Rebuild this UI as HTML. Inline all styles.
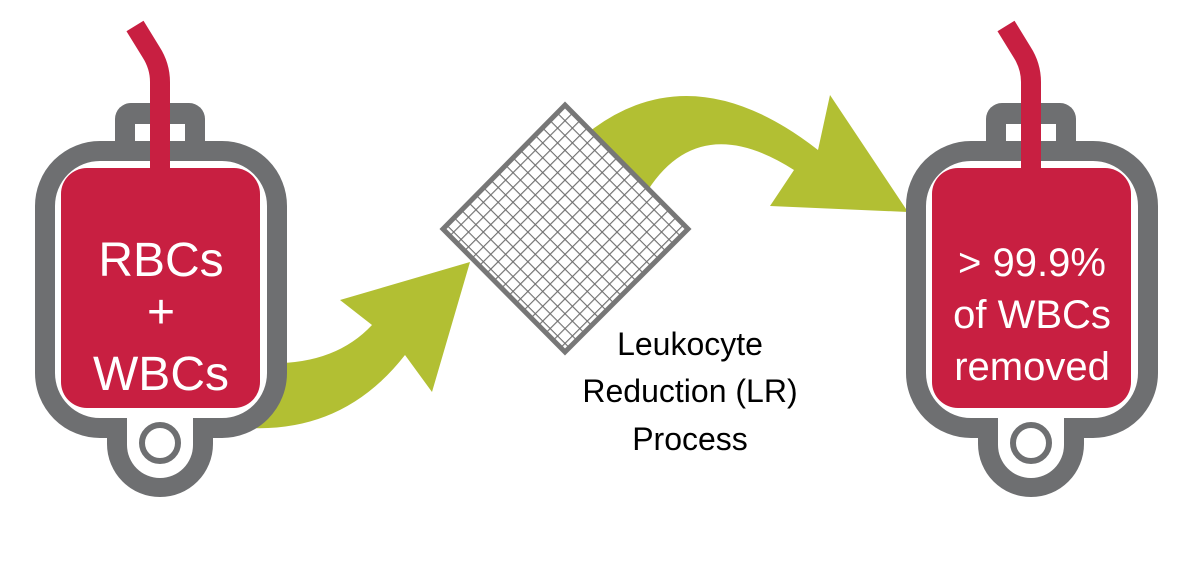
<!DOCTYPE html>
<html><head><meta charset="utf-8"><style>
html,body{margin:0;padding:0;background:#fff;}
svg{display:block;}
</style></head><body>
<svg width="1200" height="569" viewBox="0 0 1200 569" xmlns="http://www.w3.org/2000/svg">
<defs>
<pattern id="grid" width="10.5" height="10.5" patternUnits="userSpaceOnUse" patternTransform="translate(565,105) rotate(45)">
<rect width="10.5" height="10.5" fill="#fff"/>
<path d="M0,0 H10.5 M0,0 V10.5" stroke="#707070" stroke-width="2.3" fill="none"/>
</pattern>
<g id="bag">
<path d="M107,400 L107,444 A53,53 0 0 0 213,444 L213,400 Z" fill="#6e6f71"/>
<rect x="115" y="103" width="90" height="60" rx="16" fill="#6e6f71"/>
<rect x="45" y="151" width="232" height="277" rx="55" fill="#fff" stroke="#6e6f71" stroke-width="20"/>
<rect x="135" y="124" width="50" height="17" fill="#fff"/>
<path d="M127,405 L127,445 A33,33 0 0 0 193,445 L193,405 Z" fill="#fff"/>
<circle cx="160" cy="443" r="18" fill="#fff" stroke="#6e6f71" stroke-width="6"/>
<rect x="61" y="168" width="199" height="240" rx="26" fill="#c81f41"/>
<path d="M160,170 L160,82 Q160,66 151,52 L135,26" fill="none" stroke="#c81f41" stroke-width="20"/>
</g>
</defs>

<path d="M250,362 Q330,370 372,325 L340,300 L470,262 L432,392 L405,355 Q345,432 250,428 Z" fill="#b2bf33"/>
<path d="M585,135 Q690,50 818,150 L830,95 L908,212 L770,206 L794,170 Q700,110 648,190 Z" fill="#b2bf33"/>

<use href="#bag"/>
<use href="#bag" transform="translate(871,0)"/>

<polygon points="565,105 688,229 565,352 443,229" fill="url(#grid)" stroke="#777" stroke-width="5"/>

<g font-family="Liberation Sans, sans-serif" fill="#fff" text-anchor="middle">
<text x="161" y="276" font-size="48">RBCs</text>
<text x="161" y="328" font-size="48">+</text>
<text x="161" y="390" font-size="48">WBCs</text>
<text x="1032" y="276" font-size="40">&gt; 99.9%</text>
<text x="1032" y="328" font-size="40">of WBCs</text>
<text x="1032" y="380" font-size="40">removed</text>
</g>
<g font-family="Liberation Sans, sans-serif" fill="#000" text-anchor="middle" font-size="32">
<text x="690" y="355">Leukocyte</text>
<text x="690" y="402">Reduction (LR)</text>
<text x="690" y="450">Process</text>
</g>
</svg>
</body></html>
